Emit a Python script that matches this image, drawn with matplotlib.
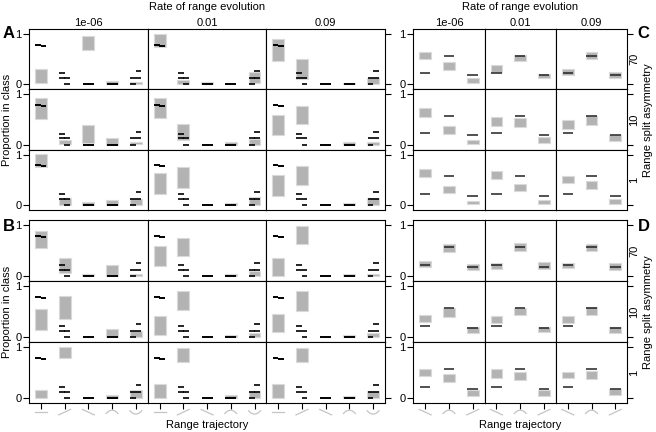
import numpy as np
import matplotlib
matplotlib.use("Agg")
import matplotlib.pyplot as plt
from matplotlib.transforms import blended_transform_factory

plt.rcParams['font.family'] = ['Liberation Sans', 'DejaVu Sans']

W, H = 656, 432

rates = ['1e-06', '0.01', '0.09']
asymmetry = ['70', '10', '1']

# trajectory classes along the x axis
traj_left = ['flat', 'increase', 'decrease', 'hump', 'U']
traj_right = ['decrease', 'hump', 'increase']

# expected proportions (black marks), left half and right half of each class
exp1_lo = [0.79, 0.125, 0.0, 0.0, 0.0]
exp1_hi = [0.79, 0.22, 0.0, 0.0, 0.125]
exp2_lo = [0.77, 0.0, 0.0, 0.0, 0.125]
exp2_hi = [0.77, 0.125, 0.0, 0.0, 0.26]
exp_right = [0.23, 0.573, 0.185]

# simulated ranges (grey boxes), [asymmetry row][rate column][class] = (low, high)
A_boxes = [
    [[(0.03, 0.31), None, (0.68, 0.96), (0.0, 0.075), (0.01, 0.045)],
     [(0.745, 1.01), (0.01, 0.085), (0.0, 0.048), None, (0.02, 0.255)],
     [(0.465, 0.905), (0.105, 0.505), None, (0.0, 0.02), (0.01, 0.13)]],
    [[(0.51, 0.93), (0.02, 0.085), (0.045, 0.385), (0.0, 0.125), (0.01, 0.055)],
     [(0.535, 0.92), (0.10, 0.41), None, (0.0, 0.053), (0.0, 0.115)],
     [(0.20, 0.60), (0.405, 0.775), None, (0.0, 0.053), (0.0, 0.06)]],
    [[(0.765, 1.01), (0.01, 0.15), (0.0, 0.07), (0.0, 0.095), (0.005, 0.13)],
     [(0.23, 0.63), (0.35, 0.75), None, (0.0, 0.045), (0.0, 0.165)],
     [(0.18, 0.60), (0.405, 0.78), None, (0.0, 0.045), (0.0, 0.14)]],
]
B_boxes = [
    [[(0.555, 0.885), (0.055, 0.357), (0.0, 0.043), (0.0, 0.225), (0.005, 0.053)],
     [(0.20, 0.60), (0.40, 0.755), None, (0.0, 0.043), (0.0, 0.11)],
     [(0.0, 0.355), (0.63, 0.985), None, (0.0, 0.043), (0.005, 0.053)]],
    [[(0.15, 0.555), (0.355, 0.82), None, (0.0, 0.155), (0.0, 0.128)],
     [(0.048, 0.41), (0.545, 0.91), None, (0.0, 0.053), (0.0, 0.085)],
     [(0.105, 0.46), (0.51, 0.905), None, (0.0, 0.053), (0.01, 0.085)]],
    [[(0.0, 0.16), (0.80, 1.01), None, (0.0, 0.055), (0.0, 0.16)],
     [(0.0, 0.285), (0.71, 0.98), None, (0.0, 0.055), (0.0, 0.14)],
     [(0.0, 0.285), (0.71, 0.98), None, (0.0, 0.05), (0.0, 0.14)]],
]
C_boxes = [
    [[(0.50, 0.645), (0.28, 0.445), (0.026, 0.118)],
     [(0.24, 0.375), (0.47, 0.59), (0.12, 0.215)],
     [(0.185, 0.315), (0.495, 0.64), (0.13, 0.25)]],
    [[(0.56, 0.725), (0.22, 0.375), (0.02, 0.10)],
     [(0.38, 0.56), (0.35, 0.525), (0.045, 0.15)],
     [(0.315, 0.495), (0.39, 0.575), (0.07, 0.20)]],
    [[(0.55, 0.72), (0.24, 0.39), (0.015, 0.09)],
     [(0.51, 0.67), (0.275, 0.42), (0.03, 0.10)],
     [(0.45, 0.585), (0.33, 0.485), (0.03, 0.13)]],
]
D_boxes = [
    [[(0.18, 0.30), (0.48, 0.625), (0.13, 0.245)],
     [(0.15, 0.255), (0.49, 0.645), (0.145, 0.27)],
     [(0.16, 0.265), (0.505, 0.63), (0.13, 0.255)]],
    [[(0.295, 0.44), (0.40, 0.58), (0.085, 0.205)],
     [(0.27, 0.42), (0.43, 0.58), (0.10, 0.21)],
     [(0.27, 0.42), (0.43, 0.60), (0.085, 0.205)]],
    [[(0.435, 0.58), (0.32, 0.475), (0.045, 0.165)],
     [(0.39, 0.565), (0.36, 0.515), (0.05, 0.165)],
     [(0.39, 0.525), (0.38, 0.545), (0.06, 0.185)]],
]

BOX = '#b3b3b3'
EDGE = '#dadada'
ICON = '#c4c4c4'

fig = plt.figure(figsize=(W / 100, H / 100), dpi=100)


def px_axes(x0, y0, w, h):
    return fig.add_axes([x0 / W, 1 - (y0 + h) / H, w / W, h / H])


def fig_text(x, y, s, **kw):
    fig.text(x / W, 1 - y / H, s, ha='center', va='center', **kw)


def draw_icons(ax, names):
    trans = blended_transform_factory(ax.transData, ax.transAxes)
    t = np.linspace(-1, 1, 25)
    yc, amp = -0.145, 0.045
    for i, name in enumerate(names):
        xs = i + 1 + 0.25 * t
        if name == 'flat':
            ys = yc + 0 * t
        elif name == 'increase':
            ys = yc + amp * t
        elif name == 'decrease':
            ys = yc - amp * t
        elif name == 'hump':
            ys = yc - 0.5 * amp + 1.2 * amp * (1 - t ** 2)
        else:
            ys = yc + 0.5 * amp - 1.2 * amp * (1 - t ** 2)
        ax.plot(xs, ys, transform=trans, clip_on=False, color=ICON, lw=0.9)


def draw_block(boxes, xs, w, ys, h, names, bottom):
    ncat = len(names)
    x = np.arange(1, ncat + 1)
    for r in range(3):
        for c in range(3):
            ax = px_axes(xs[c], ys[r], w, h)
            for i, b in enumerate(boxes[r][c]):
                if b is None:
                    continue
                ax.bar(x[i], b[1] - b[0], bottom=b[0], width=0.5, color=BOX,
                       edgecolor=EDGE, linewidth=0.8, zorder=2)
            if ncat == 5:
                for v in (exp1_lo, exp1_hi):
                    ax.hlines(v, x - 0.23, x + 0.01, color='black', lw=1.2, zorder=3)
                for v in (exp2_lo, exp2_hi):
                    ax.hlines(v, x - 0.01, x + 0.23, color='black', lw=1.2, zorder=3)
            else:
                ax.hlines(exp_right, x - 0.22, x + 0.22, color='#222222', lw=1.1, zorder=3)
            ax.set_xlim(0.5, ncat + 0.5)
            ax.set_ylim(-0.1, 1.1)
            ax.set_yticks([0, 1])
            ax.set_yticklabels(['0', '1'])
            ax.tick_params(axis='y', left=(c == 0), labelleft=(c == 0),
                           right=(c == 2), labelright=False, direction='out',
                           length=4, width=0.8, labelsize=8, pad=1.5)
            last = bottom and r == 2
            ax.set_xticks(x)
            ax.tick_params(axis='x', bottom=last, labelbottom=False, top=False,
                           direction='out', length=4, width=0.8)
            for s in ax.spines.values():
                s.set_linewidth(0.8)
            if last:
                draw_icons(ax, names)


left_x = [29, 147.7, 266.3]
right_x = [413.3, 484.6, 555.9]
top_y = [29, 89.4, 149.8]
bot_y = [220.3, 281.3, 342.3]

draw_block(A_boxes, left_x, 118.7, top_y, 60.4, traj_left, False)
draw_block(B_boxes, left_x, 118.7, bot_y, 61, traj_left, True)
draw_block(C_boxes, right_x, 71.3, top_y, 60.4, traj_right, False)
draw_block(D_boxes, right_x, 71.3, bot_y, 61, traj_right, True)

# headers
fig_text(207, 7.5, 'Rate of range evolution', fontsize=8)
fig_text(520, 7.5, 'Rate of range evolution', fontsize=8)
for c, lab in enumerate(rates):
    fig_text(left_x[c] + 118.7 / 2, 23.5, lab, fontsize=8)
    fig_text(right_x[c] + 71.3 / 2, 23.5, lab, fontsize=8)

# right strip labels
for ys, h in ((top_y, 60.4), (bot_y, 61)):
    for r, lab in enumerate(asymmetry):
        fig_text(634, ys[r] + h / 2, lab, fontsize=8, rotation=90)

fig_text(7.5, 120, 'Proportion in class', fontsize=8, rotation=90)
fig_text(7.5, 312, 'Proportion in class', fontsize=8, rotation=90)
fig_text(648, 120, 'Range split asymmetry', fontsize=8, rotation=90)
fig_text(648, 312, 'Range split asymmetry', fontsize=8, rotation=90)
fig_text(207, 425, 'Range trajectory', fontsize=8)
fig_text(520, 425, 'Range trajectory', fontsize=8)

for lab, x, y in (('A', 9, 34), ('B', 9, 227), ('C', 643, 33), ('D', 644, 227)):
    fig_text(x, y, lab, fontsize=12, fontweight='bold')

fig.savefig('out.png', dpi=100)
